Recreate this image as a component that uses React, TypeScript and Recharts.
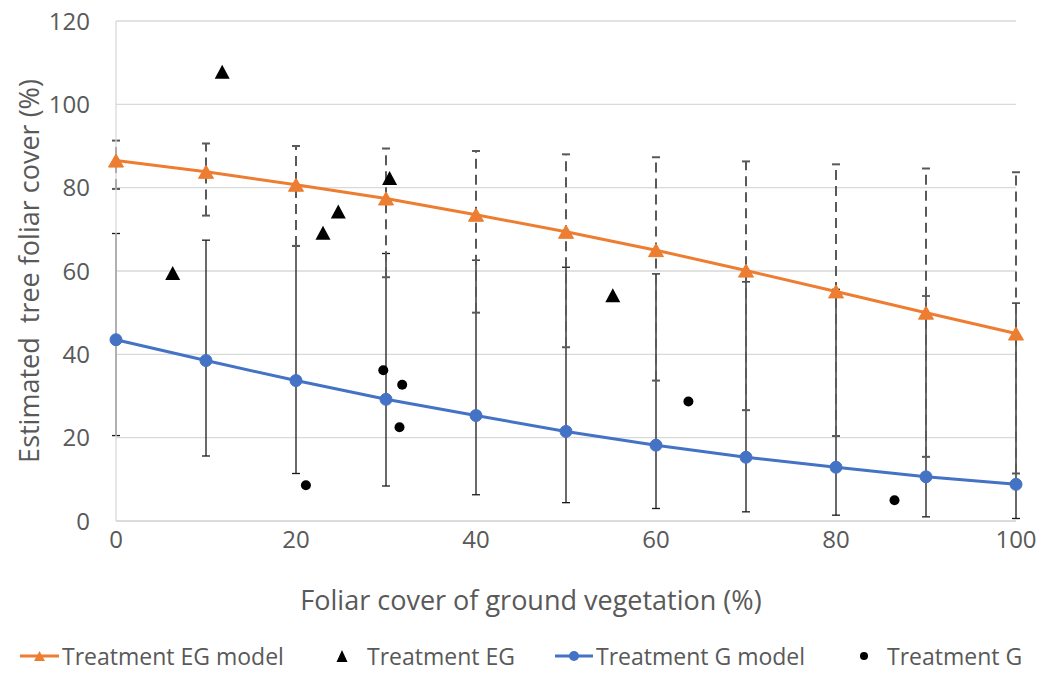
import React from "react";
import {
  ComposedChart,
  Line,
  Scatter,
  XAxis,
  YAxis,
  CartesianGrid,
  ErrorBar,
  Legend,
} from "recharts";

// ---- data ----
const modelX = [0, 10, 20, 30, 40, 50, 60, 70, 80, 90, 100];
const egModel = [86.5, 83.8, 80.7, 77.4, 73.5, 69.4, 65.0, 60.1, 55.1, 50.0, 45.0];
const egUpper = [91.3, 90.6, 90.0, 89.4, 88.8, 88.0, 87.3, 86.3, 85.6, 84.6, 83.7];
const egLower = [79.7, 73.3, 66.0, 58.5, 50.0, 41.7, 33.7, 26.6, 20.4, 15.4, 11.4];
const gModel = [43.5, 38.5, 33.7, 29.2, 25.3, 21.5, 18.2, 15.3, 12.9, 10.6, 8.8];
const gUpper = [69.0, 67.4, 66.1, 64.2, 62.6, 60.9, 59.3, 57.4, 55.6, 54.0, 52.3];
const gLower = [20.5, 15.6, 11.4, 8.4, 6.3, 4.4, 3.0, 2.2, 1.4, 1.0, 0.6];

const egObsX = [6.3, 11.8, 23.0, 24.7, 30.4, 55.2];
const egObsY = [59.5, 107.8, 69.2, 74.3, 82.3, 54.2];
const gObsX = [21.1, 29.7, 31.5, 31.8, 63.6, 86.5];
const gObsY = [8.6, 36.2, 22.5, 32.7, 28.7, 5.0];

const xTicks = [0, 20, 40, 60, 80, 100];
const yTicks = [0, 20, 40, 60, 80, 100, 120];

const seriesNames = ["Treatment EG model", "Treatment EG", "Treatment G model", "Treatment G"];
const xTitle = "Foliar cover of ground vegetation (%)";
const yTitle = "Estimated  tree foliar cover (%)";

// ---- derived tables ----
const egData = modelX.map((x, i) => ({
  x,
  y: egModel[i],
  err: [egModel[i] - egLower[i], egUpper[i] - egModel[i]],
}));
const gData = modelX.map((x, i) => ({
  x,
  y: gModel[i],
  err: [gModel[i] - gLower[i], gUpper[i] - gModel[i]],
}));
const egObs = egObsX.map((x, i) => ({ x, y: egObsY[i] }));
const gObs = gObsX.map((x, i) => ({ x, y: gObsY[i] }));

const FONT = "'Open Sans', sans-serif";
const TEXT = "#595959";
const ORANGE = "#ED7D31";
const BLUE = "#4472C4";

const LEG_H = 34;

const tri = (cx: number, cy: number, w: number, h: number) =>
  `${cx},${cy - h / 2} ${cx + w / 2},${cy + h / 2} ${cx - w / 2},${cy + h / 2}`;

const OrangeDot = (p: any) => (
  <polygon key={`eg-${p.index}`} points={tri(p.cx, p.cy, 15, 13)} fill={ORANGE} stroke={ORANGE} strokeWidth={1} />
);
const BlueDot = (p: any) => (
  <circle key={`g-${p.index}`} cx={p.cx} cy={p.cy} r={6} fill={BLUE} stroke={BLUE} strokeWidth={1} />
);
const BlackTri = (p: any) => <polygon points={tri(p.cx, p.cy, 15, 14)} fill="#000" />;
const BlackDot = (p: any) => <circle cx={p.cx} cy={p.cy} r={5} fill="#000" />;

const LegendContent = () => {
  const ts: React.CSSProperties = {
    position: "absolute",
    top: 0,
    fontFamily: FONT,
    fontSize: 23,
    color: TEXT,
    lineHeight: `${LEG_H}px`,
    height: LEG_H,
    whiteSpace: "nowrap",
  };
  const my = LEG_H / 2;
  return (
    <div style={{ position: "relative", width: 1050, height: LEG_H }}>
      <svg width={1050} height={LEG_H} style={{ position: "absolute", left: 0, top: 0 }}>
        <line x1={20} y1={my} x2={59} y2={my} stroke={ORANGE} strokeWidth={3} />
        <polygon points={tri(39.5, my, 11, 10)} fill={ORANGE} />
        <polygon points={tri(342, my, 11, 12)} fill="#000" />
        <line x1={555} y1={my} x2={593} y2={my} stroke={BLUE} strokeWidth={3} />
        <circle cx={574} cy={my} r={5} fill={BLUE} />
        <circle cx={864} cy={my} r={4} fill="#000" />
      </svg>
      <span style={{ ...ts, left: 62 }}>{seriesNames[0]}</span>
      <span style={{ ...ts, left: 367 }}>{seriesNames[1]}</span>
      <span style={{ ...ts, left: 596 }}>{seriesNames[2]}</span>
      <span style={{ ...ts, left: 887 }}>{seriesNames[3]}</span>
    </div>
  );
};

export default function App() {
  return (
    <div style={{ position: "fixed", left: 0, top: 0, width: 1050, height: 673, background: "#fff" }}>
      <ComposedChart
        width={1050}
        height={673}
        margin={{ top: 21, right: 34, bottom: 0, left: 0 }}
      >
        <CartesianGrid vertical={false} stroke="#d9d9d9" strokeWidth={1.3} />
        <XAxis
          type="number"
          dataKey="x"
          domain={[0, 100]}
          ticks={xTicks}
          interval={0}
          height={152 - LEG_H}
          axisLine={{ stroke: "#d9d9d9", strokeWidth: 1.3 }}
          tickLine={false}
          tickSize={6}
          tickMargin={4}
          tick={{ fill: TEXT, fontSize: 24, fontFamily: FONT }}
          label={(props: any) => {
            const vb = props.viewBox;
            return (
              <text
                x={531}
                y={vb.y + 89}
                textAnchor="middle"
                fill={TEXT}
                fontSize={27}
                fontFamily={FONT}
              >
                {xTitle}
              </text>
            );
          }}
        />
        <YAxis
          type="number"
          dataKey="y"
          domain={[0, 120]}
          ticks={yTicks}
          interval={0}
          width={116}
          axisLine={{ stroke: "#d9d9d9", strokeWidth: 1.3 }}
          tickLine={false}
          tickSize={6}
          tickMargin={20}
          tick={{ fill: TEXT, fontSize: 24, fontFamily: FONT }}
          label={(props: any) => {
            const vb = props.viewBox;
            const cx = 28;
            const cy = vb.y + vb.height / 2;
            return (
              <text
                x={cx}
                y={cy}
                transform={`rotate(-90 ${cx} ${cy})`}
                textAnchor="middle"
                dominantBaseline="central"
                fill={TEXT}
                fontSize={27}
                fontFamily={FONT}
                style={{ whiteSpace: "pre" }}
              >
                {yTitle}
              </text>
            );
          }}
        />
        <Legend
          verticalAlign="bottom"
          align="left"
          wrapperStyle={{ left: 0, width: 1050, height: LEG_H }}
          content={LegendContent}
        />
        <Line
          data={gData}
          dataKey="y"
          name={seriesNames[2]}
          stroke={BLUE}
          strokeWidth={3}
          dot={BlueDot}
          activeDot={false}
          isAnimationActive={false}
        >
          <ErrorBar dataKey="err" direction="y" width={4} stroke="#1a1a1a" strokeWidth={1.3} />
        </Line>
        <Line
          data={egData}
          dataKey="y"
          name={seriesNames[0]}
          stroke={ORANGE}
          strokeWidth={3}
          dot={OrangeDot}
          activeDot={false}
          isAnimationActive={false}
        >
          <ErrorBar
            dataKey="err"
            direction="y"
            width={4}
            stroke="#595959"
            strokeWidth={2}
            strokeDasharray="10 6"
          />
        </Line>
        <Scatter
          data={egObs}
          dataKey="y"
          name={seriesNames[1]}
          shape={BlackTri}
          isAnimationActive={false}
        />
        <Scatter
          data={gObs}
          dataKey="y"
          name={seriesNames[3]}
          shape={BlackDot}
          isAnimationActive={false}
        />
      </ComposedChart>
    </div>
  );
}
